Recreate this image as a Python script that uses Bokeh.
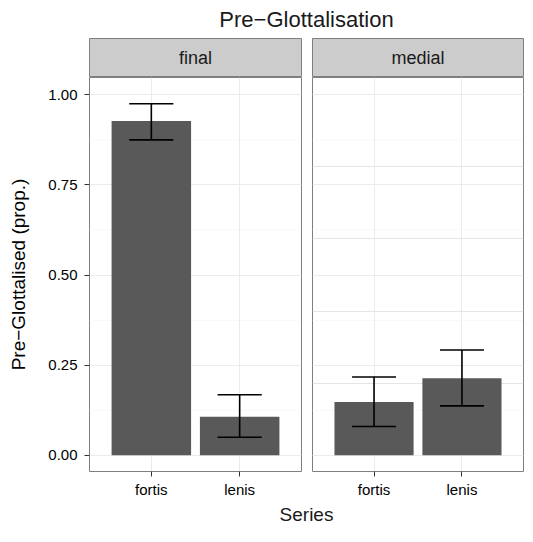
from bokeh.plotting import figure
from bokeh.models import FactorRange, Range1d, FixedTicker, NumeralTickFormatter, Grid, ColumnDataSource
from bokeh.transform import dodge
from bokeh.layouts import column, row
from bokeh.embed import file_html
from bokeh.resources import INLINE
from bokeh.core.properties import value

# ---- data ----
chart_title = "Pre\u2212Glottalisation"
x_title = "Series"
y_title = "Pre\u2212Glottalised (prop.)"
facets = ["final", "medial"]
series = ["fortis", "lenis"]
final_prop = [0.927, 0.107]
final_lower = [0.875, 0.050]
final_upper = [0.975, 0.168]
medial_prop = [0.148, 0.214]
medial_lower = [0.080, 0.137]
medial_upper = [0.217, 0.292]
y_ticks = [0.0, 0.25, 0.5, 0.75, 1.0]
y_minor = [0.125, 0.375, 0.625, 0.875]

FONT = "Liberation Sans"
BAR = "#595959"
BORDER = "#7F7F7F"
STRIP = "#CCCCCC"
GRID = "#EBEBEB"

TITLE_H = 38
STRIP_H = 39
FRAME_H = 394
AXIS_H = 29
FOOT_H = 26

LEFT_B = 89
GAP = 10
W1 = 212
W2 = 211

y_range = Range1d(-0.045, 1.048)


def make_panel(vals, lo, hi, border_left, frame_w, show_y):
    src = ColumnDataSource(dict(series=series, prop=vals, lower=lo, upper=hi))
    p = figure(x_range=FactorRange(*series, range_padding=0.2, range_padding_units="absolute"),
               y_range=y_range, width=border_left + frame_w + 1, height=FRAME_H + AXIS_H,
               min_border_left=border_left, min_border_right=1, min_border_top=0,
               min_border_bottom=AXIS_H, output_backend="svg", toolbar_location=None,
               y_axis_location="left" if show_y else None)
    p.outline_line_color = BORDER
    p.outline_line_width = 1
    p.background_fill_color = "white"
    p.border_fill_color = "white"

    p.vbar(x="series", top="prop", bottom=0, width=0.9, source=src,
           fill_color=BAR, line_color=None)
    p.segment(x0="series", y0="lower", x1="series", y1="upper", source=src,
              line_color="black", line_width=1.6)
    for col in ("lower", "upper"):
        p.segment(x0=dodge("series", -0.25, range=p.x_range), y0=col,
                  x1=dodge("series", 0.25, range=p.x_range), y1=col, source=src,
                  line_color="black", line_width=1.6)

    xa = p.xaxis[0]
    xa.axis_line_color = None
    xa.major_tick_in = 0
    xa.major_tick_out = 5
    xa.major_tick_line_color = "#333333"
    xa.major_label_text_font = FONT
    xa.major_label_text_font_size = "15px"
    xa.major_label_text_color = "black"
    xa.major_label_standoff = 4
    p.xgrid.grid_line_color = GRID

    ticker = FixedTicker(ticks=y_ticks, minor_ticks=y_minor)
    if show_y:
        ya = p.yaxis[0]
        ya.ticker = ticker
        ya.formatter = NumeralTickFormatter(format="0.00")
        ya.axis_line_color = None
        ya.major_tick_in = 0
        ya.major_tick_out = 5
        ya.minor_tick_line_color = None
        ya.major_tick_line_color = "#333333"
        ya.major_label_text_font = FONT
        ya.major_label_text_font_size = "15px"
        ya.major_label_text_color = "black"
        ya.major_label_standoff = 7
        ya.axis_label = y_title
        ya.axis_label_text_font = FONT
        ya.axis_label_text_font_size = "19px"
        ya.axis_label_text_font_style = "normal"
        ya.axis_label_text_color = "black"
        ya.axis_label_standoff = 16
        g = p.ygrid[0]
    else:
        g = Grid(dimension=1, ticker=ticker)
        p.add_layout(g)
    g.grid_line_color = GRID
    g.minor_grid_line_color = GRID
    g.minor_grid_line_dash = "1 3"
    return p


def make_label_fig(text, border_left, frame_w, height, size, fill, outline, ypos):
    f = figure(x_range=Range1d(0, 1), y_range=Range1d(0, 1), width=border_left + frame_w + 1,
               height=height, min_border_left=border_left, min_border_right=1,
               min_border_top=0, min_border_bottom=0, output_backend="svg",
               toolbar_location=None, x_axis_location=None, y_axis_location=None)
    f.grid.visible = False
    f.background_fill_color = fill
    f.border_fill_color = "white"
    f.outline_line_color = outline
    f.text(x=[0.5], y=[ypos], text=[text], text_font=value(FONT), text_font_size=size,
           text_align="center", text_baseline="middle", text_color="#1A1A1A")
    return f


p1 = make_panel(final_prop, final_lower, final_upper, LEFT_B, W1, True)
p2 = make_panel(medial_prop, medial_lower, medial_upper, GAP, W2, False)
s1 = make_label_fig(facets[0], LEFT_B, W1, STRIP_H, "18px", STRIP, BORDER, 0.5)
s2 = make_label_fig(facets[1], GAP, W2, STRIP_H, "18px", STRIP, BORDER, 0.5)

total_frame = W1 + 1 + GAP + W2
t = make_label_fig(chart_title, LEFT_B, total_frame, TITLE_H, "22px", "white", None, 0.5)
fb = make_label_fig(x_title, LEFT_B, total_frame, FOOT_H, "19px", "white", None, 0.45)

layout = column(t, row(column(s1, p1), column(s2, p2)), fb)
open("out.html", "w").write(file_html(layout, INLINE))
